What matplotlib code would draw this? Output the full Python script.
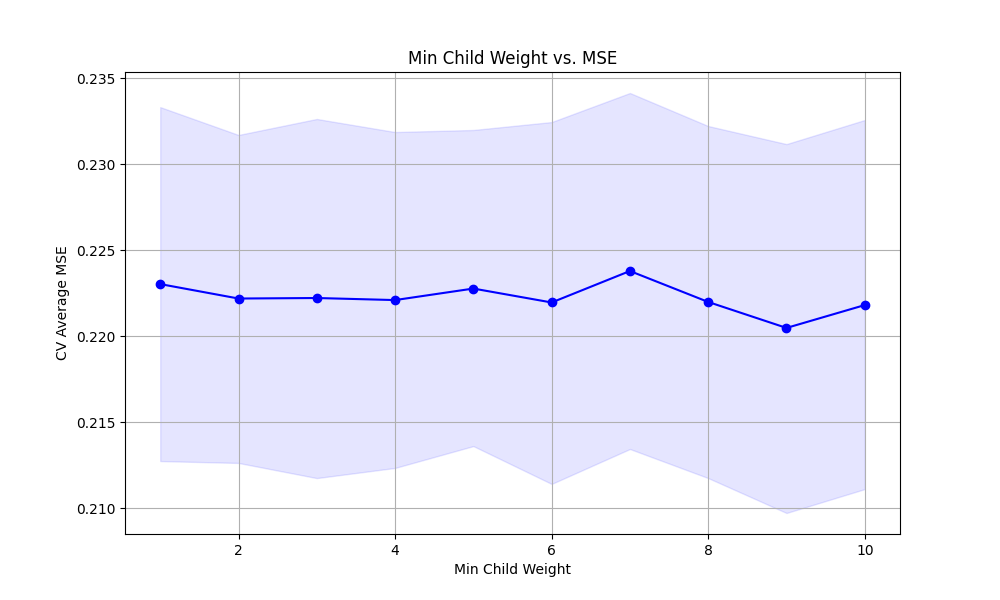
import numpy as np
import matplotlib
matplotlib.use("Agg")
import matplotlib.pyplot as plt

# values
min_child_weight = [1, 2, 3, 4, 5, 6, 7, 8, 9, 10]
mean_mse = [0.22302, 0.22218, 0.22221, 0.22209, 0.22276, 0.22195, 0.22378, 0.22198, 0.22047, 0.22180]
upper_mse = [0.23331, 0.23169, 0.23262, 0.23186, 0.23198, 0.23244, 0.23413, 0.23221, 0.23116, 0.23256]
lower_mse = [0.21273, 0.21262, 0.21174, 0.21233, 0.21360, 0.21140, 0.21343, 0.21174, 0.20971, 0.21110]

plt.figure(figsize=(10, 6))
plt.plot(min_child_weight, mean_mse, marker='o', color='blue')
plt.fill_between(min_child_weight, lower_mse, upper_mse, color='blue', alpha=0.1)
plt.title("Min Child Weight vs. MSE")
plt.xlabel("Min Child Weight")
plt.ylabel("CV Average MSE")
plt.grid(True)
plt.savefig("out.png", dpi=100)
